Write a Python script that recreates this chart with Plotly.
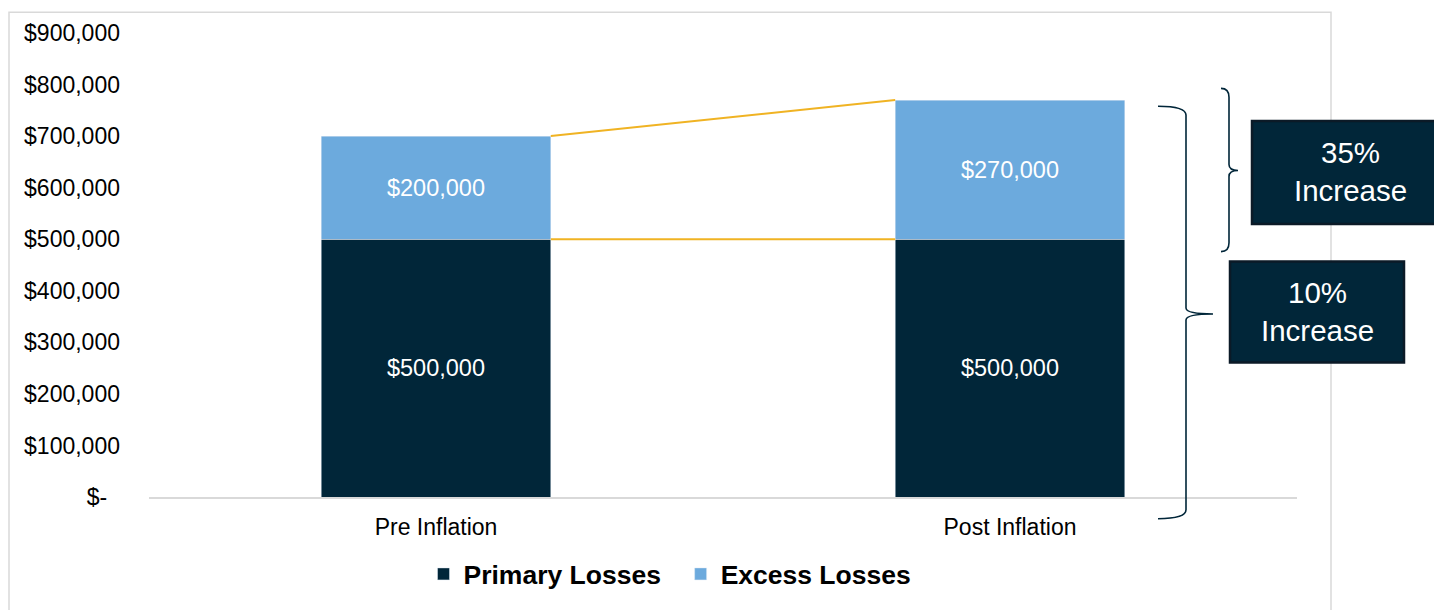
import plotly.graph_objects as go

categories = ["Pre Inflation", "Post Inflation"]
primary = [500000, 500000]
excess = [200000, 270000]
series_names = ["Primary Losses", "Excess Losses"]
tick_vals = [0, 100000, 200000, 300000, 400000, 500000, 600000, 700000, 800000, 900000]
tick_text = ["$-\u00a0\u00a0", "$100,000", "$200,000", "$300,000", "$400,000", "$500,000",
             "$600,000", "$700,000", "$800,000", "$900,000"]
box_texts = ["35%<br>Increase", "10%<br>Increase"]

C_PRIMARY = "#012639"
C_EXCESS = "#6CAADD"
C_LINE = "#F0B323"
FONT = "Liberation Sans, Arial, sans-serif"
BAR_W = 0.4

def money(v):
    return "${:,.0f}".format(v)

fig = go.Figure()
fig.add_trace(go.Bar(x=categories, y=primary, name=series_names[0] + "\u00a0\u00a0", marker_color=C_PRIMARY,
                     width=BAR_W, text=[money(v) for v in primary], textposition="inside",
                     insidetextanchor="middle", textfont=dict(color="white", size=23.5, family=FONT),
                     hoverinfo="skip"))
fig.add_trace(go.Bar(x=categories, y=excess, name=series_names[1], marker_color=C_EXCESS,
                     width=BAR_W, text=[money(v) for v in excess], textposition="inside",
                     insidetextanchor="middle", textfont=dict(color="white", size=23.5, family=FONT),
                     hoverinfo="skip"))

totals = [p + e for p, e in zip(primary, excess)]
shapes = [
    dict(type="line", xref="x", yref="y", x0=0 + BAR_W / 2, x1=1 - BAR_W / 2,
         y0=totals[0], y1=totals[1], line=dict(color=C_LINE, width=2)),
    dict(type="line", xref="x", yref="y", x0=0 + BAR_W / 2, x1=1 - BAR_W / 2,
         y0=primary[0], y1=primary[1], line=dict(color=C_LINE, width=2)),
]

# screen-pixel helpers for decorations (plot area on screen: x 149..1297, y 30..499)
def px(xp):
    return (xp - 149) / 1148.0

def py(yp):
    return (499 - yp) / 469.0

# outer chart border
shapes.append(dict(type="rect", xref="paper", yref="paper", x0=px(9), x1=px(1331),
                   y0=py(640), y1=py(9), line=dict(color="#D9D9D9", width=1.5),
                   fillcolor="rgba(0,0,0,0)", layer="below"))

def brace_path(x_left, x_mid, x_tip, y_top, y_mid, y_bot):
    r = 6
    p = "M {},{} ".format(px(x_left), py(y_top))
    p += "Q {},{} {},{} ".format(px(x_mid), py(y_top), px(x_mid), py(y_top + r * 1.5))
    p += "L {},{} ".format(px(x_mid), py(y_mid - r))
    p += "Q {},{} {},{} ".format(px(x_mid), py(y_mid), px(x_tip), py(y_mid))
    p += "Q {},{} {},{} ".format(px(x_mid), py(y_mid), px(x_mid), py(y_mid + r))
    p += "L {},{} ".format(px(x_mid), py(y_bot - r * 1.5))
    p += "Q {},{} {},{}".format(px(x_mid), py(y_bot), px(x_left), py(y_bot))
    return p

shapes.append(dict(type="path", xref="paper", yref="paper",
                   path=brace_path(1158, 1186, 1213, 104, 314, 521),
                   line=dict(color=C_PRIMARY, width=1.6)))
shapes.append(dict(type="path", xref="paper", yref="paper",
                   path=brace_path(1221, 1229, 1238, 86, 169, 251),
                   line=dict(color=C_PRIMARY, width=1.6)))

# boxes
shapes.append(dict(type="rect", xref="paper", yref="paper", x0=px(1252), x1=px(1452),
                   y0=py(223), y1=py(119), fillcolor=C_PRIMARY,
                   line=dict(color="#0B1A27", width=2.5)))
shapes.append(dict(type="rect", xref="paper", yref="paper", x0=px(1230), x1=px(1404),
                   y0=py(363), y1=py(261), fillcolor=C_PRIMARY,
                   line=dict(color="#0B1A27", width=2.5)))

annotations = [
    dict(xref="paper", yref="paper", x=px(1350), y=py(170), text=box_texts[0], showarrow=False,
         font=dict(color="white", size=29.5, family=FONT), xanchor="center", yanchor="middle"),
    dict(xref="paper", yref="paper", x=px(1317), y=py(311), text=box_texts[1], showarrow=False,
         font=dict(color="white", size=29.5, family=FONT), xanchor="center", yanchor="middle"),
]

fig.update_layout(
    barmode="stack",
    width=1434, height=602,
    margin=dict(l=141, r=145, t=22, b=111),
    paper_bgcolor="white", plot_bgcolor="white",
    font=dict(family=FONT, color="black", size=23),
    shapes=shapes,
    annotations=annotations,
    showlegend=True,
    legend=dict(orientation="h", x=px(670), xanchor="center", y=py(577), yanchor="middle",
                font=dict(size=26.5, family=FONT, weight="bold"),
                itemwidth=30, traceorder="normal", bgcolor="rgba(0,0,0,0)"),
    xaxis=dict(type="category", range=[-0.5, 1.5], showgrid=False, showline=True,
               linecolor="#D9D9D9", linewidth=1.5, ticks="", zeroline=False,
               tickfont=dict(size=23, family=FONT, color="black"), ticklabelstandoff=9),
    yaxis=dict(range=[0, 900000], tickvals=tick_vals, ticktext=tick_text, showgrid=False,
               showline=False, zeroline=False, ticks="",
               tickfont=dict(size=23, family=FONT, color="black"), ticklabelstandoff=28),
)

fig.write_html("out.html")
